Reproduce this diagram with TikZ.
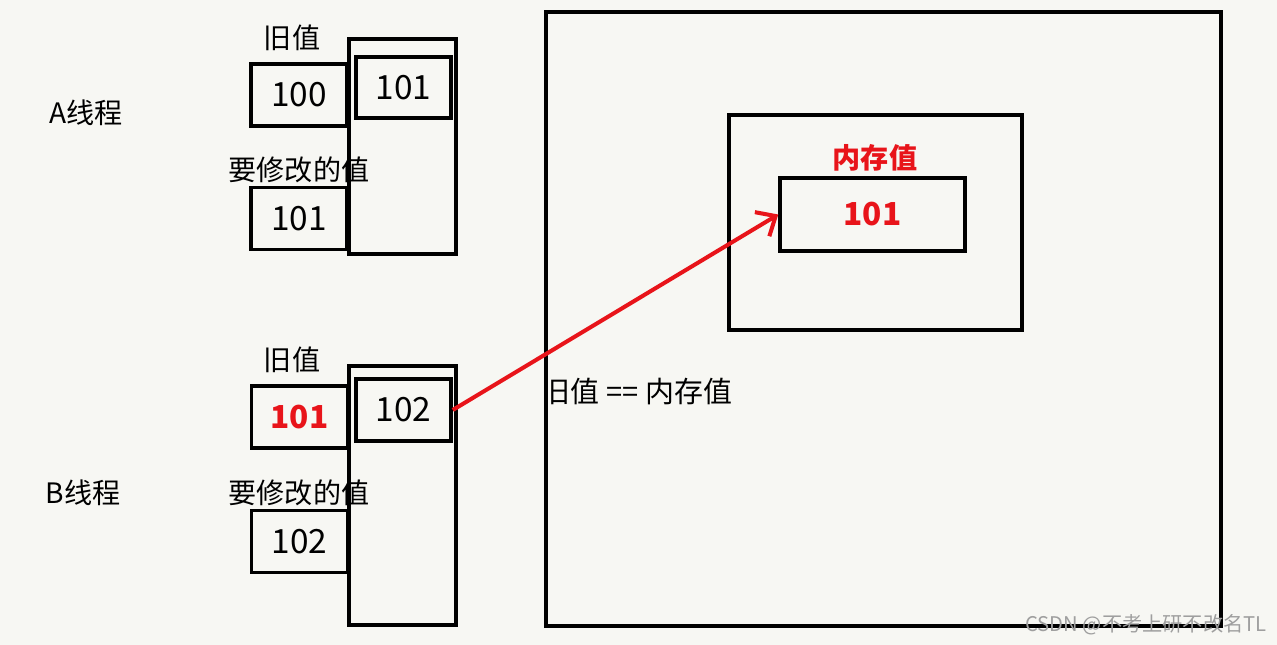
\documentclass[tikz,border=0pt]{standalone}
\usepackage{fontspec}
\newfontfamily\cjk{Noto Sans CJK SC}
\usepackage{xcolor}
\usepackage{tikz}
\usetikzlibrary{arrows.meta}

\definecolor{paper}{HTML}{F7F7F3}
\definecolor{memred}{HTML}{E8141A}

\tikzset{
  txt/.style={font=\cjk\fontsize{16}{18}\selectfont, inner sep=0pt},
  box/.style={font=\cjk\fontsize{19}{21}\selectfont, inner sep=0pt, draw, line width=2pt, fill=paper, minimum width=1.92cm, minimum height=1.24cm},
  col/.style={draw, line width=2pt, minimum width=2.14cm, inner sep=0pt},
  frame/.style={draw, line width=2pt, inner sep=0pt},
  hot/.style={text=memred, font=\cjk\bfseries\fontsize{18}{20}\selectfont},
}

\begin{document}
\begin{tikzpicture}[x=0.02cm, y=-0.02cm]
\fill[paper] (0,0) rectangle (1277,645);
\useasboundingbox (0,0) rectangle (1277,645);

% thread A
\node[txt] (thrA) at (86,113) {A线程};
\node[col, minimum height=4.3cm] (colA) at (402.5,146.5) {};
\node[txt] (oldA) at (292,38) {旧值};
\node[box] (oldvalA) at (299,95) {100};
\node[box, minimum width=1.9cm, minimum height=1.22cm] (newA) at (403.5,87.5) {101};
\node[txt] (modA) at (299,170) {要修改的值};
\node[box] (modvalA) at (299,218.5) {101};

% thread B
\node[txt] (thrB) at (83,493) {B线程};
\node[col, minimum height=5.18cm] (colB) at (402.5,495.5) {};
\node[txt] (oldB) at (292,360) {旧值};
\node[box, hot] (oldvalB) at (299.5,417) {101};
\node[box, minimum width=1.9cm, minimum height=1.24cm] (newB) at (403.5,410) {102};
\node[txt] (modB) at (299,493) {要修改的值};
\node[box] (modvalB) at (299.5,541.5) {102};

% memory
\node[frame, minimum width=13.5cm, minimum height=12.28cm] (main) at (883.5,319) {};
\node[frame, minimum width=5.86cm, minimum height=4.3cm] (heap) at (875.5,222.5) {};
\node[txt, hot, font=\cjk\bfseries\fontsize{16}{18}\selectfont] (memlbl) at (875,158) {内存值};
\node[box, hot, minimum width=3.7cm, minimum height=1.46cm] (mem) at (872.5,214.5) {101};
\node[txt, font=\cjk\fontsize{16.5}{18}\selectfont] (cmp) at (637,392) {旧值 == 内存值};

\draw[memred, line width=2.3pt, -{Straight Barb[length=9pt, width=16pt, line width=2.3pt]}] (newB.east) -- (mem.west);

\node[font=\cjk\fontsize{11.5}{13}\selectfont, text=gray!75, inner sep=0pt] (mark) at (1146,625) {CSDN @不考上研不改名TL};
\end{tikzpicture}
\end{document}
